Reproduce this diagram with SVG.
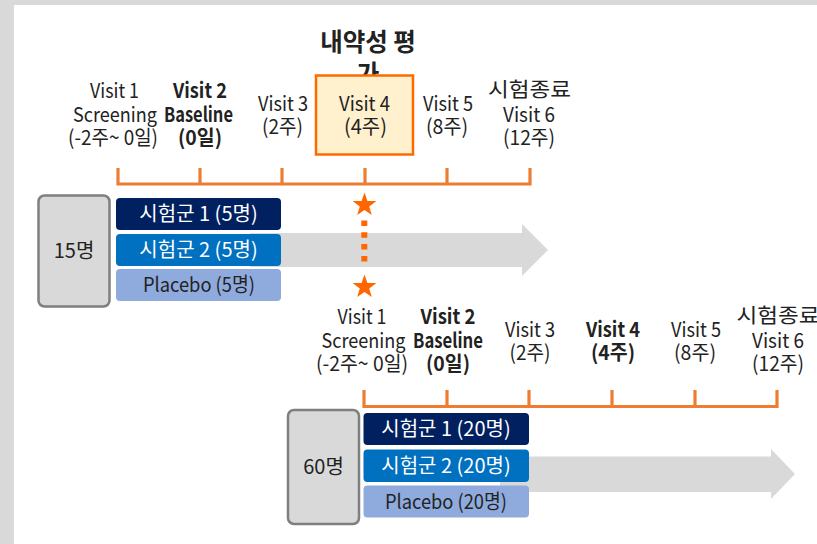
<svg xmlns="http://www.w3.org/2000/svg" width="817" height="544" viewBox="0 0 817 544">
<defs>
<style>
text{font-family:"Noto Sans CJK KR","Noto Sans",sans-serif;fill:#222;text-anchor:middle}
.lb{font-size:20.5px}
.b{font-weight:bold}
.bar{font-size:20px}
.w{fill:#fff}
.tl{fill:none;stroke:#ED7D31;stroke-width:3.2}
.grp{fill:#D9D9D9;stroke:#7F7F7F;stroke-width:2.5}
.arr{fill:#D9D9D9}
.star{fill:#FF6600}
</style>
<polygon id="star" points="0,-12.5 2.9,-4 11.9,-3.9 4.7,1.5 7.3,10.1 0,5 -7.3,10.1 -4.7,1.5 -11.9,-3.9 -2.9,-4"/>
</defs>
<rect x="0" y="0" width="817" height="544" fill="#D9D9D9"/>
<rect x="14" y="5" width="803" height="539" fill="#fff"/>

<g id="title">
<text class="b" style="font-size:24.5px"><tspan x="368" y="51">내약성 평</tspan><tspan x="368" y="83">가</tspan></text>
</g>

<g id="visit4-highlight">
<rect x="316" y="75.5" width="97" height="79" fill="#FFF0CE" stroke="#FF6A00" stroke-width="2.5"/>
</g>

<g id="top-labels">
<text class="lb" lengthAdjust="spacingAndGlyphs"><tspan x="114.5" y="98" textLength="49" lengthAdjust="spacingAndGlyphs">Visit 1</tspan><tspan x="115" y="121.5" textLength="84" lengthAdjust="spacingAndGlyphs">Screening</tspan><tspan x="113" y="145" textLength="90" lengthAdjust="spacingAndGlyphs">(-2주~ 0일)</tspan></text>
<text class="lb b"><tspan x="200" y="98" textLength="54" lengthAdjust="spacingAndGlyphs">Visit 2</tspan><tspan x="198.5" y="121.5" textLength="69" lengthAdjust="spacingAndGlyphs">Baseline</tspan><tspan x="200" y="145" textLength="44" lengthAdjust="spacingAndGlyphs">(0일)</tspan></text>
<text class="lb"><tspan x="283" y="110.5" textLength="50" lengthAdjust="spacingAndGlyphs">Visit 3</tspan><tspan x="282.5" y="133.5" textLength="41" lengthAdjust="spacingAndGlyphs">(2주)</tspan></text>
<text class="lb"><tspan x="364.5" y="110.5" textLength="51" lengthAdjust="spacingAndGlyphs">Visit 4</tspan><tspan x="365.5" y="133.5" textLength="43" lengthAdjust="spacingAndGlyphs">(4주)</tspan></text>
<text class="lb"><tspan x="448" y="110.5" textLength="50" lengthAdjust="spacingAndGlyphs">Visit 5</tspan><tspan x="447" y="133.5" textLength="42" lengthAdjust="spacingAndGlyphs">(8주)</tspan></text>
<text class="lb"><tspan x="529.5" y="97" textLength="83" lengthAdjust="spacingAndGlyphs">시험종료</tspan><tspan x="529" y="122" textLength="52" lengthAdjust="spacingAndGlyphs">Visit 6</tspan><tspan x="529" y="145" textLength="52" lengthAdjust="spacingAndGlyphs">(12주)</tspan></text>
</g>

<g id="bottom-labels">
<text class="lb"><tspan x="362" y="324" textLength="49" lengthAdjust="spacingAndGlyphs">Visit 1</tspan><tspan x="363.5" y="347.5" textLength="84" lengthAdjust="spacingAndGlyphs">Screening</tspan><tspan x="362" y="371" textLength="92" lengthAdjust="spacingAndGlyphs">(-2주~ 0일)</tspan></text>
<text class="lb b"><tspan x="448" y="324" textLength="55" lengthAdjust="spacingAndGlyphs">Visit 2</tspan><tspan x="448" y="347.5" textLength="70" lengthAdjust="spacingAndGlyphs">Baseline</tspan><tspan x="448" y="371" textLength="44" lengthAdjust="spacingAndGlyphs">(0일)</tspan></text>
<text class="lb"><tspan x="530" y="336.5" textLength="50" lengthAdjust="spacingAndGlyphs">Visit 3</tspan><tspan x="530" y="359.5" textLength="41" lengthAdjust="spacingAndGlyphs">(2주)</tspan></text>
<text class="lb b"><tspan x="613" y="336.5" textLength="54" lengthAdjust="spacingAndGlyphs">Visit 4</tspan><tspan x="613" y="359.5" textLength="44" lengthAdjust="spacingAndGlyphs">(4주)</tspan></text>
<text class="lb"><tspan x="696" y="336.5" textLength="50" lengthAdjust="spacingAndGlyphs">Visit 5</tspan><tspan x="695" y="359.5" textLength="42" lengthAdjust="spacingAndGlyphs">(8주)</tspan></text>
<text class="lb"><tspan x="778" y="323" textLength="83" lengthAdjust="spacingAndGlyphs">시험종료</tspan><tspan x="778" y="348" textLength="52" lengthAdjust="spacingAndGlyphs">Visit 6</tspan><tspan x="778" y="371" textLength="52" lengthAdjust="spacingAndGlyphs">(12주)</tspan></text>
</g>

<g id="flow-top">
<polygon class="arr" points="250,233 522,233 522,224 548,250 522,276 522,267 250,267"/>
</g>
<g id="group-15">
<rect class="grp" x="38.5" y="195.5" width="71" height="111" rx="6"/>
<text x="74" y="257.5" style="font-size:20px">15명</text>
</g>
<g id="arm1-top">
<rect x="116" y="198" width="165" height="32" rx="4" fill="#002060"/>
<text class="bar w" x="198.5" y="221">시험군 1 (5명)</text>
</g>
<g id="arm2-top">
<rect x="116" y="234" width="165" height="32" rx="4" fill="#0070C0"/>
<text class="bar w" x="198.5" y="257">시험군 2 (5명)</text>
</g>
<g id="placebo-top">
<rect x="116" y="269" width="165" height="32" rx="4" fill="#8FAADC"/>
<text class="bar" x="199" y="292" textLength="112" lengthAdjust="spacingAndGlyphs">Placebo (5명)</text>
</g>

<g id="flow-bottom">
<polygon class="arr" points="500,456.5 771,456.5 771,449 795,474 771,499 771,492 500,492"/>
</g>
<g id="group-60">
<rect class="grp" x="288" y="410" width="71" height="114" rx="6"/>
<text x="323.5" y="474" style="font-size:20px">60명</text>
</g>
<g id="arm1-bottom">
<rect x="363.5" y="413" width="165.5" height="32" rx="4" fill="#002060"/>
<text class="bar w" x="446" y="436">시험군 1 (20명)</text>
</g>
<g id="arm2-bottom">
<rect x="363.5" y="449.5" width="165.5" height="32.5" rx="4" fill="#0070C0"/>
<text class="bar w" x="446" y="472.5">시험군 2 (20명)</text>
</g>
<g id="placebo-bottom">
<rect x="363.5" y="485.5" width="165.5" height="32" rx="4" fill="#8FAADC"/>
<text class="bar" x="446" y="508.5" textLength="122" lengthAdjust="spacingAndGlyphs">Placebo (20명)</text>
</g>

<g id="connectors">
<path class="tl" d="M118,168 V184 H530 V168 M200,168 V184 M282,168 V184 M365,168 V184 M447,168 V184"/>
<path class="tl" d="M364,390 V406.5 H777 V390 M447,390 V406.5 M529,390 V406.5 M612,390 V406.5 M695,390 V406.5"/>
<line x1="364.3" y1="220.5" x2="364.3" y2="263.5" stroke="#FF6600" stroke-width="6" stroke-dasharray="5.5 6.3"/>
<use href="#star" class="star" x="364.5" y="205"/>
<use href="#star" class="star" x="364.5" y="287"/>
</g>
</svg>
